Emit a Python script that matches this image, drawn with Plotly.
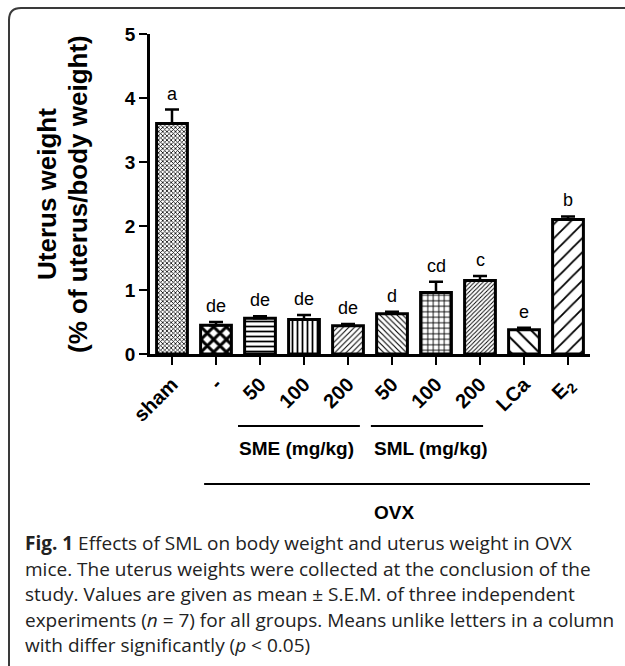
import plotly.graph_objects as go

# Uterus weight per group (% of uterus / body weight), mean and S.E.M.
tick_labels = ["sham", "-", "50", "100", "200", "50", "100", "200", "LCa", "E<sub>2</sub>"]
means = [3.60, 0.45, 0.56, 0.54, 0.44, 0.63, 0.96, 1.15, 0.38, 2.10]
sems = [0.22, 0.05, 0.03, 0.07, 0.03, 0.03, 0.17, 0.07, 0.03, 0.05]
letters = ["a", "de", "de", "de", "de", "d", "cd", "c", "e", "b"]

# fill pattern for each bar: (shape, size, solidity)
patterns = [
    ("x", 3, 0.45),
    ("x", 9, 0.55),
    ("-", 5, 0.35),
    ("|", 5, 0.35),
    ("/", 4, 0.25),
    ("\\", 4, 0.28),
    ("+", 5.5, 0.3),
    ("/", 3, 0.3),
    ("\\", 10, 0.2),
    ("/", 10, 0.18),
]

W, H = 625, 666
ARIAL = "Arial, Liberation Sans, sans-serif"


def px(x):
    return x / W


def py(y):
    return 1 - y / H


xs = list(range(len(means)))

fig = go.Figure()
fig.add_trace(go.Bar(
    x=xs,
    y=means,
    width=0.7,
    marker=dict(
        color="white",
        line=dict(color="black", width=3),
        pattern=dict(
            shape=[p[0] for p in patterns],
            size=[p[1] for p in patterns],
            solidity=[p[2] for p in patterns],
            fgcolor="black",
            bgcolor="white",
            fillmode="replace",
        ),
    ),
    error_y=dict(
        type="data",
        symmetric=False,
        array=sems,
        arrayminus=[0] * len(sems),
        color="black",
        thickness=2.5,
        width=7,
    ),
    showlegend=False,
))

annotations = []
for x, m, s, lab in zip(xs, means, sems, letters):
    annotations.append(dict(
        x=x, y=m + s, xref="x", yref="y", text=lab, showarrow=False,
        yanchor="middle", yshift=16,
        font=dict(family=ARIAL, size=18, color="black"),
    ))

# y-axis title, two lines
annotations.append(dict(
    x=px(47), y=py(194), xref="paper", yref="paper", text="<b>Uterus weight</b>",
    textangle=-90, showarrow=False, xanchor="center", yanchor="middle",
    font=dict(family=ARIAL, size=26, color="black"),
))
annotations.append(dict(
    x=px(78), y=py(194), xref="paper", yref="paper",
    text="<b>(% of uterus/body weight)</b>",
    textangle=-90, showarrow=False, xanchor="center", yanchor="middle",
    font=dict(family=ARIAL, size=26, color="black"),
))

# group labels under the axis
group_labels = [("SME (mg/kg)", 2.84, 448), ("SML (mg/kg)", 5.89, 448), ("OVX", 5.05, 512)]
for txt, gx, gy in group_labels:
    annotations.append(dict(
        x=gx, y=py(gy), xref="x", yref="paper", text=f"<b>{txt}</b>",
        showarrow=False, xanchor="center", yanchor="middle",
        font=dict(family=ARIAL, size=19, color="black"),
    ))

# caption
caption = [
    "<b>Fig. 1</b> Effects of SML on body weight and uterus weight in OVX",
    "mice. The uterus weights were collected at the conclusion of the",
    "study. Values are given as mean ± S.E.M. of three independent",
    "experiments (<i>n</i> = 7) for all groups. Means unlike letters in a column",
    "with differ significantly (<i>p</i> < 0.05)",
]
for i, line in enumerate(caption):
    annotations.append(dict(
        x=px(23), y=py(543 + i * 25.5), xref="paper", yref="paper", text=line,
        showarrow=False, xanchor="left", yanchor="middle",
        font=dict(family="Open Sans, sans-serif", size=19, color="#222"),
    ))

shapes = [
    # group bracket lines
    dict(type="line", xref="x", yref="paper", x0=1.5, x1=4.27, y0=py(426), y1=py(426),
         line=dict(color="black", width=2)),
    dict(type="line", xref="x", yref="paper", x0=4.52, x1=7.07, y0=py(426), y1=py(426),
         line=dict(color="black", width=2)),
    dict(type="line", xref="x", yref="paper", x0=0.73, x1=9.89, y0=py(484), y1=py(484),
         line=dict(color="black", width=2)),
    # rounded outer frame
    dict(type="path", xref="paper", yref="paper",
         path=(f"M {px(9)},{py(668)} L {px(9)},{py(20)} "
               f"Q {px(9)},{py(8)} {px(21)},{py(8)} L {px(627)},{py(8)}"),
         line=dict(color="#3a3a3a", width=2)),
]

fig.update_layout(
    template="none",
    width=W, height=H,
    margin=dict(l=0, r=0, t=0, b=0, autoexpand=False),
    paper_bgcolor="white",
    plot_bgcolor="white",
    annotations=annotations,
    shapes=shapes,
    xaxis=dict(
        domain=[px(150), px(590)],
        range=[-0.5, 9.5],
        automargin=False,
        tickmode="array",
        tickvals=xs,
        ticktext=[f"<b>{t}</b>" for t in tick_labels],
        tickangle=-45,
        ticks="outside", ticklen=8, tickwidth=2, tickcolor="black",
        showline=True, linecolor="black", linewidth=2.5,
        showgrid=False, zeroline=False,
        tickfont=dict(family=ARIAL, size=20, color="black"),
    ),
    yaxis=dict(
        domain=[py(354), py(34)],
        range=[0, 5],
        automargin=False,
        tickvals=[0, 1, 2, 3, 4, 5],
        ticktext=[f"<b>{v}</b>" for v in range(6)],
        ticks="outside", ticklen=8, tickwidth=2, tickcolor="black",
        showline=True, linecolor="black", linewidth=2.5,
        showgrid=False, zeroline=False,
        tickfont=dict(family=ARIAL, size=19, color="black"),
    ),
)

fig.write_html("out.html")
